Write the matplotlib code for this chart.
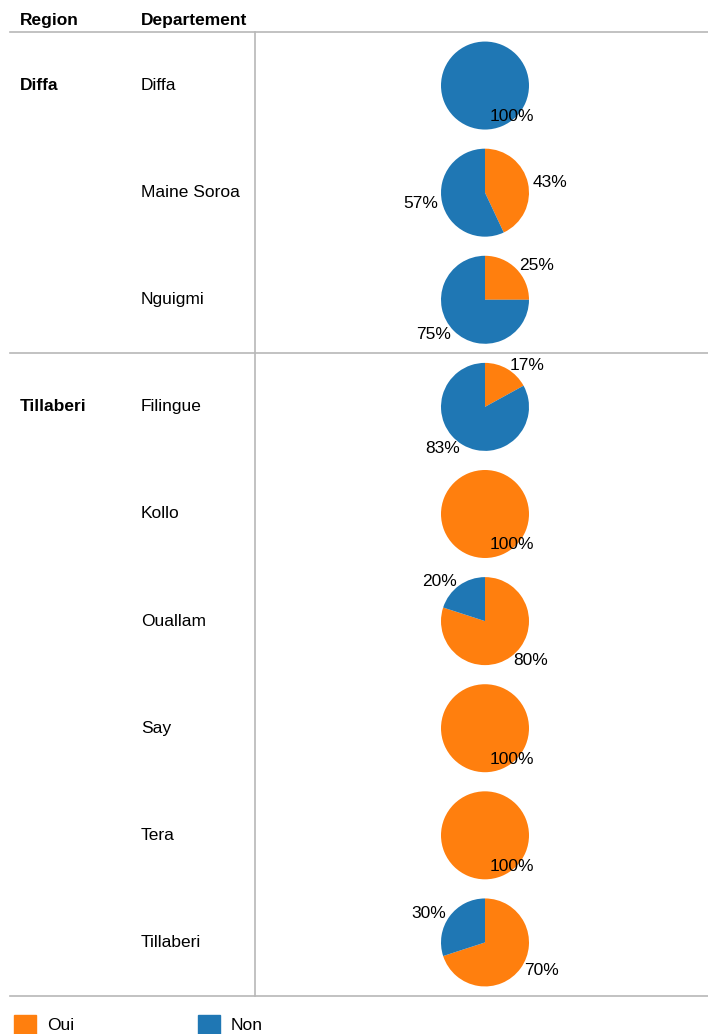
import numpy as np
import matplotlib.pyplot as plt
from matplotlib.patches import Rectangle

plt.rcParams['font.family'] = ['Liberation Sans', 'DejaVu Sans']

# donnees
regions = ["Diffa", "Tillaberi"]
departements = ["Diffa", "Maine Soroa", "Nguigmi",
                "Filingue", "Kollo", "Ouallam", "Say", "Tera", "Tillaberi"]
region_of_dep = ["Diffa", "Diffa", "Diffa",
                 "Tillaberi", "Tillaberi", "Tillaberi", "Tillaberi", "Tillaberi", "Tillaberi"]
oui = [0, 43, 25, 17, 100, 80, 100, 100, 70]
non = [100, 57, 75, 83, 0, 20, 0, 0, 30]
categories = ["Oui", "Non"]
colors = ["#ff7f0e", "#1f77b4"]

W, H = 708, 1034
fig = plt.figure(figsize=(W / 100, H / 100), dpi=100)
ax = fig.add_axes([0, 0, 1, 1])

def Y(py):
    return H - py

top = 32
bottom = 996
row_h = (bottom - top) / len(departements)
pie_x = 485
radius = 44
fs = 12.5
grid = "#b8b8b8"

# en-tetes
ax.text(20, Y(20), "Region", fontsize=fs, fontweight="bold", va="center")
ax.text(141, Y(20), "Departement", fontsize=fs, fontweight="bold", va="center")
ax.plot([10, W], [Y(top), Y(top)], color=grid, lw=1.2)
ax.plot([10, W], [Y(bottom), Y(bottom)], color=grid, lw=1.2)
ax.plot([255, 255], [Y(top), Y(bottom)], color=grid, lw=1.2)

for i, dep in enumerate(departements):
    cy = top + (i + 0.5) * row_h
    reg = region_of_dep[i]
    if i == 0 or region_of_dep[i - 1] != reg:
        ax.text(20, Y(cy), reg, fontsize=fs, fontweight="bold", va="center")
        if i > 0:
            ax.plot([10, W], [Y(top + i * row_h)] * 2, color=grid, lw=1.2)
    ax.text(141, Y(cy), dep, fontsize=fs, va="center")

    vals = [oui[i], non[i]]
    keep = [k for k in range(2) if vals[k] > 0]
    ax.pie([vals[k] for k in keep], colors=[colors[k] for k in keep],
           startangle=90, counterclock=False, center=(pie_x, Y(cy)),
           radius=radius, frame=True)

    # etiquettes
    start = 0.0
    for k in keep:
        frac = vals[k] / 100
        mid = np.deg2rad((start + frac / 2) * 360)
        start += frac
        if frac >= 1:
            lx = pie_x + 5
            ly = Y(cy) - radius * 0.7
            ha = "left"
        else:
            lx = pie_x + np.sin(mid) * radius * 1.1
            ly = Y(cy) + np.cos(mid) * radius * 1.1
            ha = "left" if np.sin(mid) >= 0 else "right"
        ax.text(lx, ly, f"{vals[k]}%", fontsize=fs, ha=ha, va="center")

# legende
for j, (cat, col) in enumerate(zip(categories, colors)):
    x0 = 14 + j * 184
    ax.add_patch(Rectangle((x0, Y(1037)), 22, 22, color=col, clip_on=False))
    ax.text(x0 + 33, Y(1025), cat, fontsize=fs, va="center")

ax.set_xlim(0, W)
ax.set_ylim(0, H)
ax.set_aspect("auto")
ax.axis("off")

fig.savefig("out.png", dpi=100)
